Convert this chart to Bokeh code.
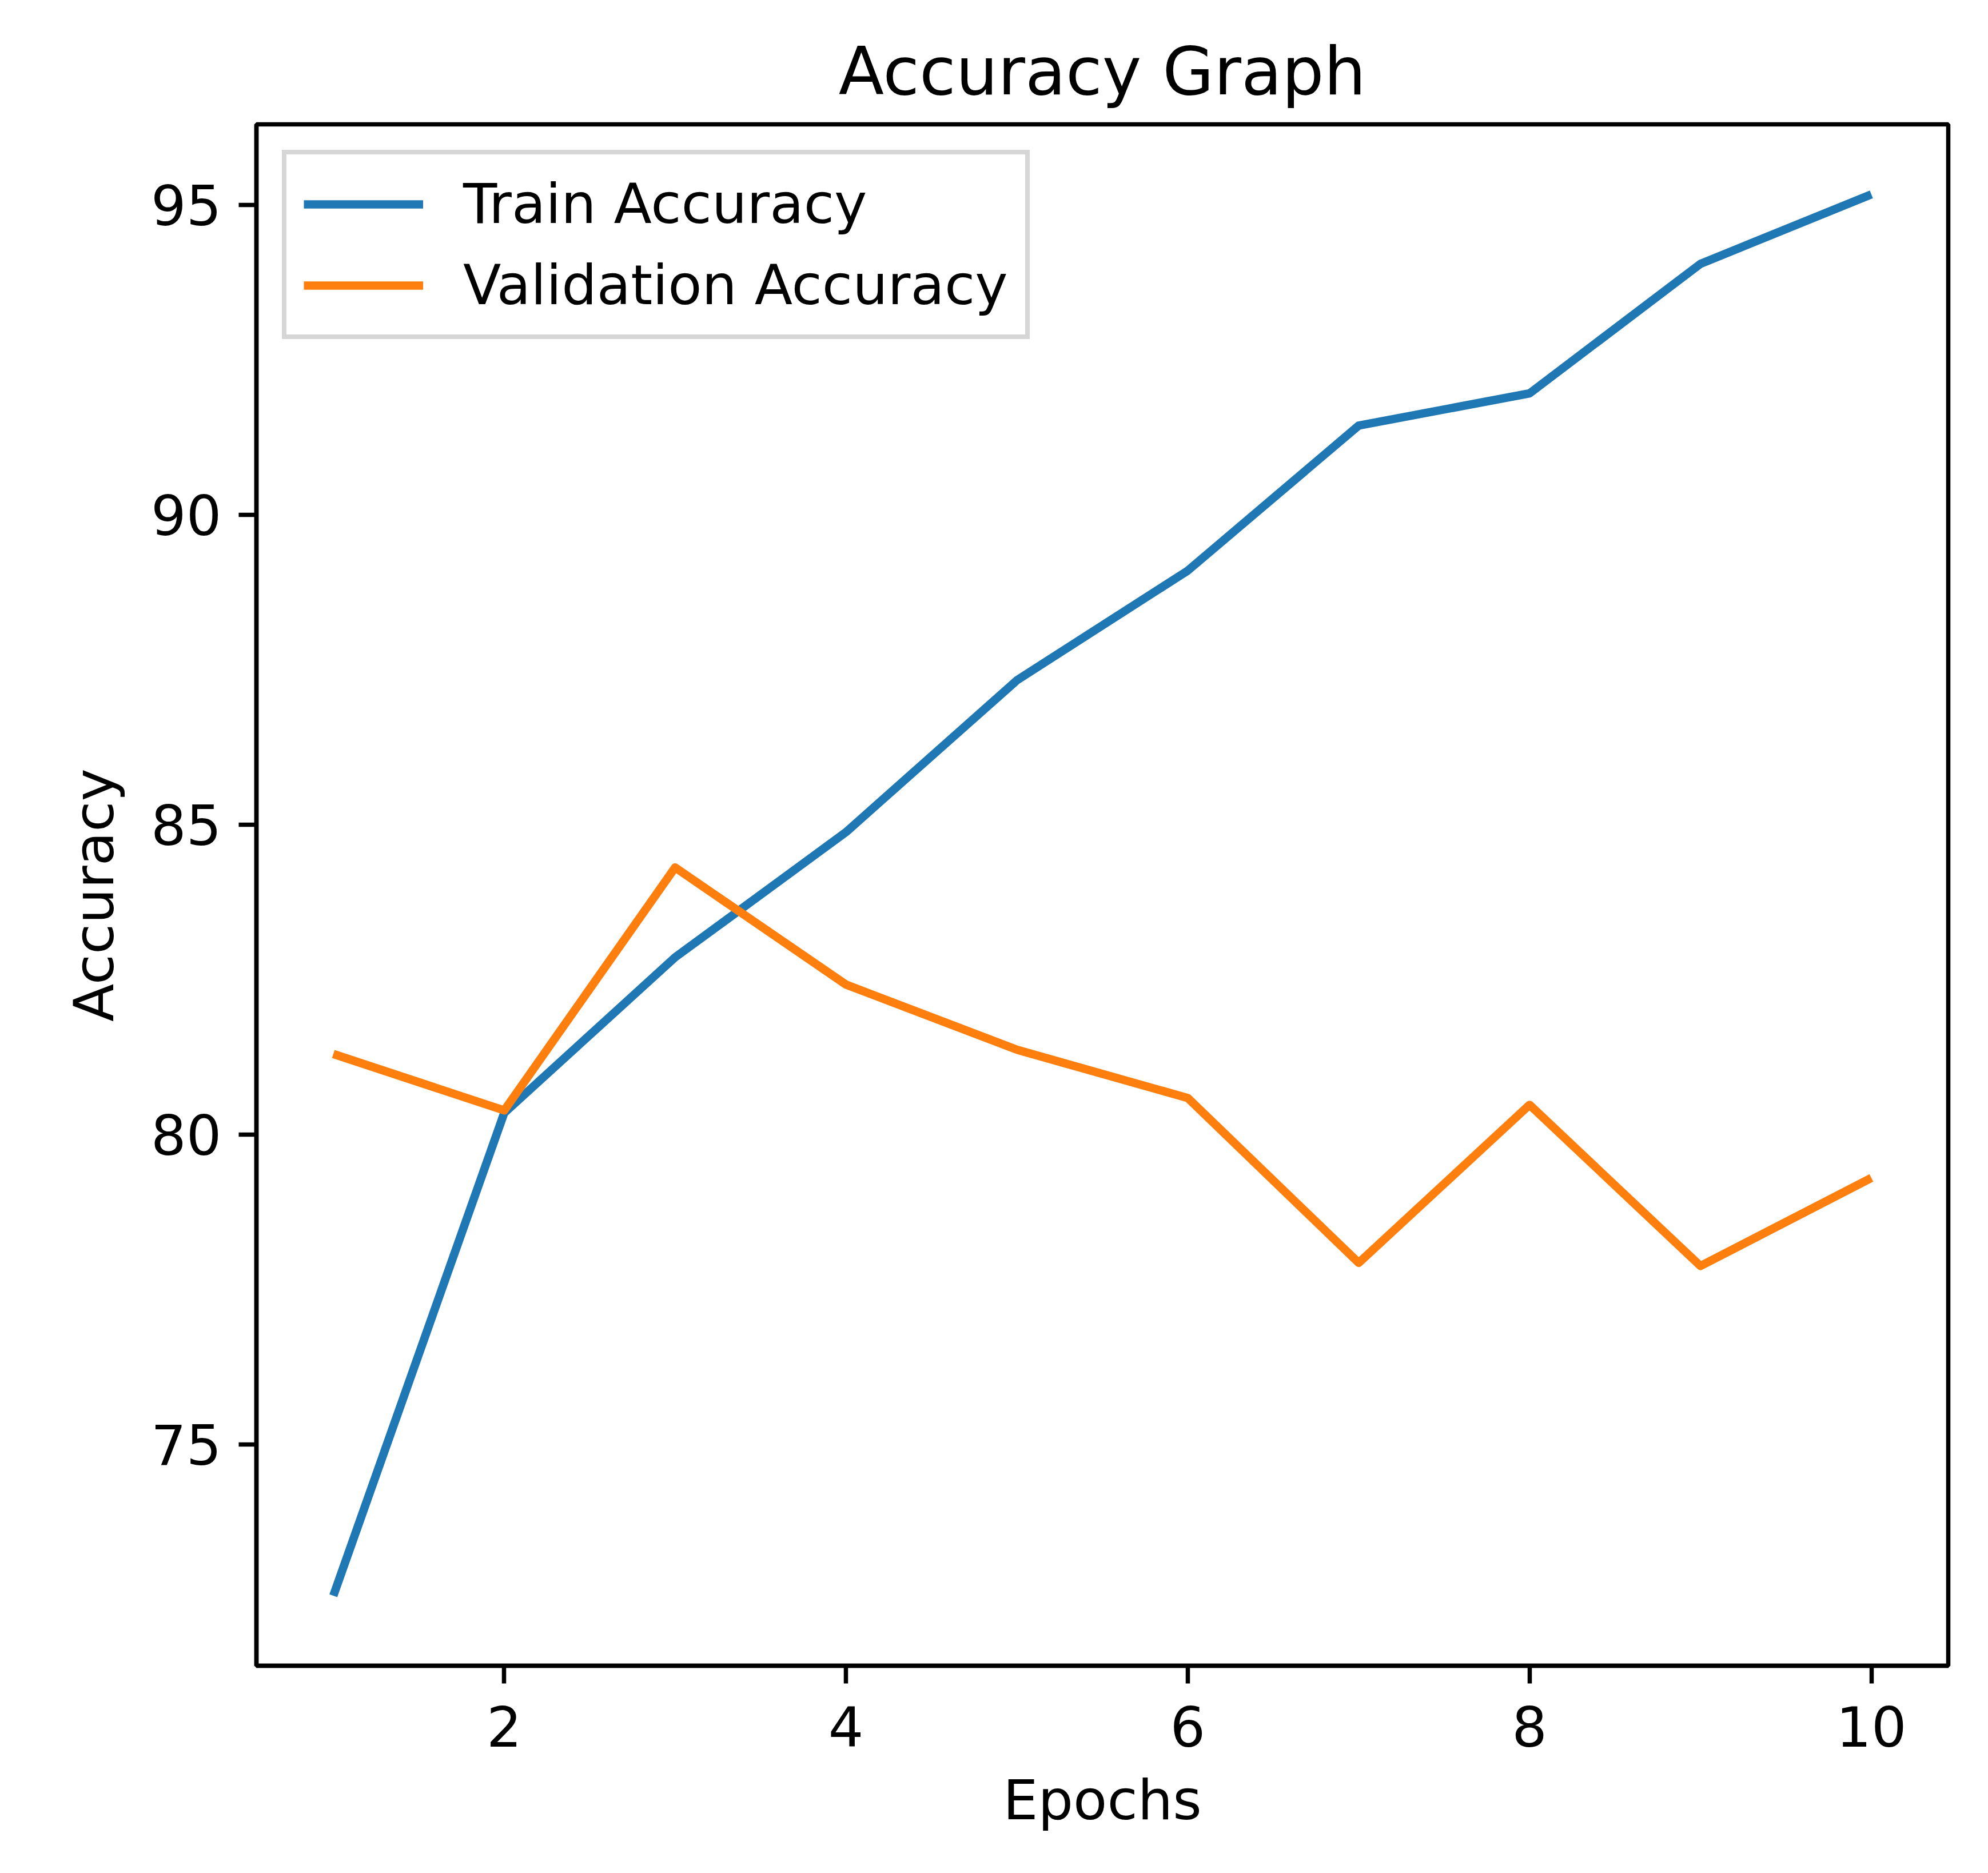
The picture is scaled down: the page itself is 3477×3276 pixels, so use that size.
from bokeh.plotting import figure
from bokeh.models import Range1d, FixedTicker
from bokeh.embed import file_html
from bokeh.resources import INLINE

# ---- data ----
epochs = [1, 2, 3, 4, 5, 6, 7, 8, 9, 10]
train_acc = [72.56, 80.35, 82.86, 84.88, 87.33, 89.10, 91.44, 91.96, 94.05, 95.17]
val_acc = [81.30, 80.39, 84.31, 82.42, 81.37, 80.59, 77.93, 80.48, 77.88, 79.30]
x_ticks = [2, 4, 6, 8, 10]
y_ticks = [75, 80, 85, 90, 95]

FONT = "DejaVu Sans"
TICK_PX = "97px"

# matplotlib-like 5% margins
xmin, xmax = min(epochs), max(epochs)
xpad = (xmax - xmin) * 0.05
ymin = min(min(train_acc), min(val_acc))
ymax = max(max(train_acc), max(val_acc))
ypad = (ymax - ymin) * 0.05

p = figure(
    frame_width=2959, frame_height=2696,
    min_border_left=448, min_border_right=62,
    min_border_top=217, min_border_bottom=355,
    x_range=Range1d(xmin - xpad, xmax + xpad),
    y_range=Range1d(ymin - ypad, ymax + ypad),
    output_backend="svg", toolbar_location=None,
    title="Accuracy Graph",
)

p.line(epochs, train_acc, line_color="#1f77b4", line_width=14.6,
       line_join="round", legend_label="Train Accuracy")
p.line(epochs, val_acc, line_color="#ff7f0e", line_width=14.6,
       line_join="round", legend_label="Validation Accuracy")

# title
p.title.text_font = FONT
p.title.text_font_size = "116px"
p.title.text_font_style = "normal"
p.title.text_color = "black"
p.title.align = "center"
p.title.standoff = 52

# frame / grid
p.xgrid.visible = False
p.ygrid.visible = False
p.outline_line_color = "black"
p.outline_line_width = 7.5
p.background_fill_color = "white"
p.border_fill_color = "white"

for ax in (p.xaxis[0], p.yaxis[0]):
    ax.axis_line_color = "black"
    ax.axis_line_width = 7.5
    ax.major_tick_line_color = "black"
    ax.major_tick_line_width = 7.5
    ax.major_tick_out = 31
    ax.major_tick_in = 0
    ax.minor_tick_line_color = None
    ax.major_label_text_font = FONT
    ax.major_label_text_font_size = TICK_PX
    ax.major_label_text_color = "black"
    ax.axis_label_text_font = FONT
    ax.axis_label_text_font_size = TICK_PX
    ax.axis_label_text_font_style = "normal"
    ax.axis_label_text_color = "black"

p.xaxis[0].ticker = FixedTicker(ticks=x_ticks)
p.yaxis[0].ticker = FixedTicker(ticks=y_ticks)
p.xaxis[0].major_label_standoff = 39
p.yaxis[0].major_label_standoff = 30
p.xaxis[0].axis_label = "Epochs"
p.yaxis[0].axis_label = "Accuracy"
p.xaxis[0].axis_label_standoff = 34
p.yaxis[0].axis_label_standoff = 40

# legend
lg = p.legend[0]
lg.location = "top_left"
lg.margin = 45
lg.padding = 30
lg.spacing = 29
lg.glyph_width = 209
lg.glyph_height = 100
lg.label_height = 100
lg.label_standoff = 70
lg.label_text_font = FONT
lg.label_text_font_size = TICK_PX
lg.label_text_color = "black"
lg.border_line_color = "#cccccc"
lg.border_line_alpha = 0.8
lg.border_line_width = 8
lg.background_fill_color = "white"
lg.background_fill_alpha = 0.8

open("out.html", "w").write(file_html(p, INLINE))
